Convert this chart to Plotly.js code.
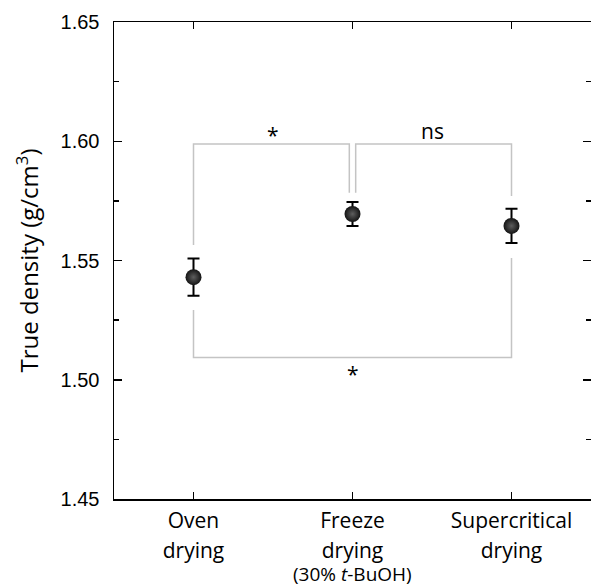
<!DOCTYPE html>
<html>
<head>
<meta charset="utf-8">
<script src="https://cdn.plot.ly/plotly-3.0.1.min.js"></script>
<style>
  html, body { margin: 0; padding: 0; overflow: hidden; background: #fff; }
  #chart { width: 593px; height: 587px; }
</style>
</head>
<body>
<div id="chart"></div>
<script>
// Drying methods on the category axis
const methods = [0, 1, 2];
const methodLabels = [
  '<span style="font-size:21px">Oven</span><br><span style="font-size:21px">drying</span>',
  '<span style="font-size:21px">Freeze</span><br><span style="font-size:21px">drying</span>',
  '<span style="font-size:21px">Supercritical</span><br><span style="font-size:21px">drying</span>'
];
// Solvent note under the freeze-drying category
const freezeNote = '(30% <i>t</i>-BuOH)';
const freezeNoteX = 1;

// True density (g/cm3) with standard deviation
const density = [1.543, 1.5695, 1.5645];
const densitySd = [0.0078, 0.0050, 0.0072];

// Significance brackets as x / y paths
const bracketOvenFreezeX = [0, 0, 0.98, 0.98];
const bracketOvenFreezeY = [1.5565, 1.5988, 1.5988, 1.5784];
const bracketFreezeSuperX = [1.02, 1.02, 2, 2];
const bracketFreezeSuperY = [1.5784, 1.5988, 1.5988, 1.5770];
const bracketOvenSuperX = [0, 0, 2, 2];
const bracketOvenSuperY = [1.5292, 1.5093, 1.5093, 1.5510];

// Significance labels and where they sit
const sigLabels = ['*', 'ns', '*'];
const sigLabelX = [0.5, 1.5, 1.0];
const sigLabelY = [1.6028, 1.6045, 1.5025];

const bracketLine = { color: '#c4c4c4', width: 1.5 };
function bracket(x, y) {
  return { x: x, y: y, mode: 'lines', line: bracketLine, hoverinfo: 'skip', showlegend: false, type: 'scatter' };
}

const traces = [
  bracket(bracketOvenFreezeX, bracketOvenFreezeY),
  bracket(bracketFreezeSuperX, bracketFreezeSuperY),
  bracket(bracketOvenSuperX, bracketOvenSuperY),
  {
    x: methods,
    y: density,
    type: 'scatter',
    mode: 'markers',
    showlegend: false,
    error_y: { type: 'data', array: densitySd, visible: true, color: '#000', thickness: 2, width: 6 },
    marker: {
      size: 16,
      color: '#141414',
      gradient: { type: 'radial', color: '#5e5e5e' },
      line: { width: 0 }
    }
  }
];

const annotations = sigLabels.map((t, i) => ({
  x: sigLabelX[i], y: sigLabelY[i], xref: 'x', yref: 'y',
  text: t, showarrow: false,
  font: { family: 'Open Sans, sans-serif', size: 21, color: '#000' }
}));
annotations.push({
  x: freezeNoteX, xref: 'x', y: 0, yref: 'paper',
  yanchor: 'top', yshift: -60,
  text: freezeNote, showarrow: false,
  font: { family: 'Open Sans, sans-serif', size: 19, color: '#000' }
});

const layout = {
  width: 593,
  height: 587,
  margin: { l: 114, r: 2, t: 22, b: 88 },
  paper_bgcolor: '#fff',
  plot_bgcolor: '#fff',
  showlegend: false,
  xaxis: {
    range: [-0.5, 2.5],
    tickmode: 'array',
    tickvals: methods,
    ticktext: methodLabels,
    ticks: 'inside',
    ticklen: 7,
    tickwidth: 1.5,
    tickcolor: '#000',
    showline: true,
    linecolor: '#000',
    linewidth: 1.5,
    mirror: 'ticks',
    showgrid: false,
    zeroline: false,
    tickfont: { family: 'Open Sans, sans-serif', size: 23, color: '#000' }
  },
  yaxis: {
    range: [1.45, 1.65],
    tickmode: 'linear',
    tick0: 1.45,
    dtick: 0.05,
    tickformat: '.2f',
    ticks: 'inside',
    ticklen: 8,
    tickwidth: 1.5,
    tickcolor: '#000',
    minor: { dtick: 0.025, ticks: 'inside', ticklen: 5, tickwidth: 1.5, tickcolor: '#000' },
    showline: true,
    linecolor: '#000',
    linewidth: 1.5,
    mirror: 'ticks',
    showgrid: false,
    zeroline: false,
    ticklabelstandoff: 9,
    tickfont: { family: 'Liberation Sans, Arial, sans-serif', size: 20, color: '#000' },
    title: {
      text: 'True density (g/cm<sup>3</sup>)',
      font: { family: 'Open Sans, sans-serif', size: 24, color: '#000' },
      standoff: 15
    }
  },
  annotations: annotations
};

Plotly.newPlot('chart', traces, layout, { staticPlot: true, displayModeBar: false });
</script>
</body>
</html>
